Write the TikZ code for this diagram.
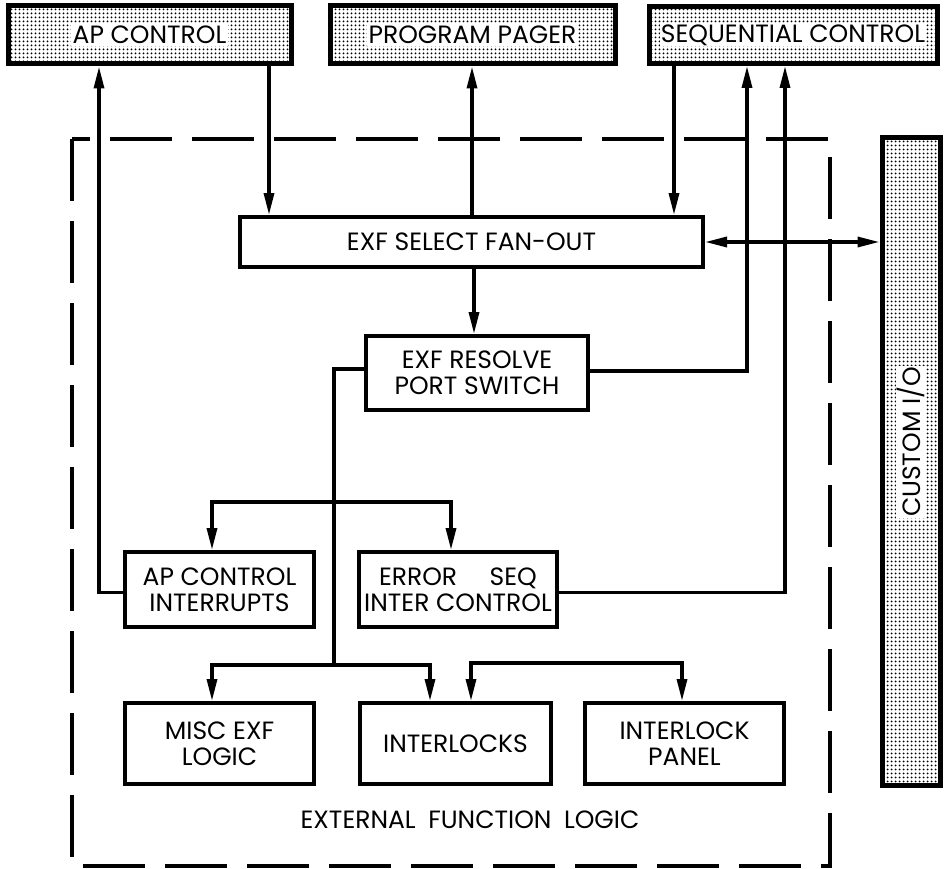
\documentclass[tikz,border=0pt]{standalone}
\usepackage{fontspec}
\setmainfont{Poppins}
\usetikzlibrary{arrows.meta,patterns.meta}
\begin{document}
\begin{tikzpicture}[x=1pt,y=-1pt,
  topbox/.style={draw,line width=5pt,inner sep=0pt,pattern={Dots[distance=4pt,radius=1.25pt]},pattern color=black},
  toptext/.style={fill=white,inner sep=2pt,font=\fontsize{25}{25}\selectfont},
  box/.style={draw,line width=4pt,fill=white,inner sep=0pt,align=center,font=\fontsize{25}{26}\selectfont},
  conn/.style={line width=3.3pt},
  arr/.style={conn,-{Triangle[length=22pt,width=10pt]}},
  darr/.style={conn,{Triangle[length=22pt,width=10pt]}-{Triangle[length=22pt,width=10pt]}},
  frame/.style={line width=4pt,dash pattern=on 62pt off 20pt}
]
\useasboundingbox (0,0) rectangle (944,869);
% dashed boundary
\draw[frame] (72,139) rectangle (830,866);
% top boxes
\node[topbox,minimum width=283,minimum height=58,label={[toptext]center:AP CONTROL}] (apc) at (149.5,35) {};
\node[topbox,minimum width=285,minimum height=58,label={[toptext]center:PROGRAM PAGER}] (pager) at (472.5,35) {};
\node[topbox,minimum width=288,minimum height=57,label={[toptext,inner sep=1pt]center:SEQUENTIAL CONTROL}] (seq) at (793,35) {};
\node[topbox,minimum width=58,minimum height=647] (cio) at (911,461.5) {};
\node[toptext,rotate=90,inner sep=1pt] (ciot) at (911,442) {CUSTOM I/O};
% inner boxes
\node[box,minimum width=463,minimum height=50] (sel) at (471.5,242) {EXF SELECT FAN-OUT};
\node[box,minimum width=222,minimum height=74] (res) at (477,373) {EXF RESOLVE\\PORT SWITCH};
\node[box,minimum width=189,minimum height=75] (apci) at (219.5,589.5) {AP CONTROL\\INTERRUPTS};
\node[box,minimum width=198,minimum height=75] (err) at (458,589.5) {ERROR\hspace{1.3em}SEQ\\INTER CONTROL};
\node[box,minimum width=189,minimum height=81] (misc) at (219.5,743.5) {MISC EXF\\LOGIC};
\node[box,minimum width=191,minimum height=81] (ilk) at (455.5,743.5) {INTERLOCKS};
\node[box,minimum width=199,minimum height=81] (panel) at (684.5,743.5) {INTERLOCK\\PANEL};
\node[font=\fontsize{25}{26}\selectfont] (efl) at (470,820) {EXTERNAL\hspace{0.5em}FUNCTION\hspace{0.5em}LOGIC};
% connectors
\draw[arr] ([yshift=-3]apci.west) -| ([xshift=-50.5]apc.south);
\path ([xshift=119.5]apc.south) coordinate (t1);
\draw[arr] (t1) -- (t1 |- sel.north);
\draw[arr] ([xshift=0.5]sel.north) -- ([xshift=0.5]sel.north |- pager.south);
\path ([xshift=2.5]sel.south) coordinate (t2);
\draw[arr] (t2) -- (t2 |- res.north);
\path ([xshift=-119]seq.south) coordinate (t3);
\draw[arr] (t3) -- (t3 |- sel.north);
\draw[arr] ([yshift=2]res.east) -| ([xshift=-46]seq.south);
\draw[arr] ([yshift=-3]err.east) -| ([xshift=-8]seq.south);
\draw[darr] (sel.east) -- (sel.east -| cio.west);
% fan-out from resolve
\coordinate (j1) at (334,502);
\coordinate (j2) at (334,665);
\draw[conn] ([yshift=4]res.west) -| (j2);
\draw[arr] (j1) -| ([xshift=-7.5]apci.north);
\draw[arr] (j1) -| ([xshift=-7]err.north);
\draw[arr] (j2) -| ([xshift=-7.5]misc.north);
\draw[arr] (j2) -| ([xshift=-25.5]ilk.north);
\path ([xshift=15.5]ilk.north) coordinate (t4);
\draw[darr] (t4) -- ++(0,-38) -| ([xshift=-2.5]panel.north);
\end{tikzpicture}
\end{document}
